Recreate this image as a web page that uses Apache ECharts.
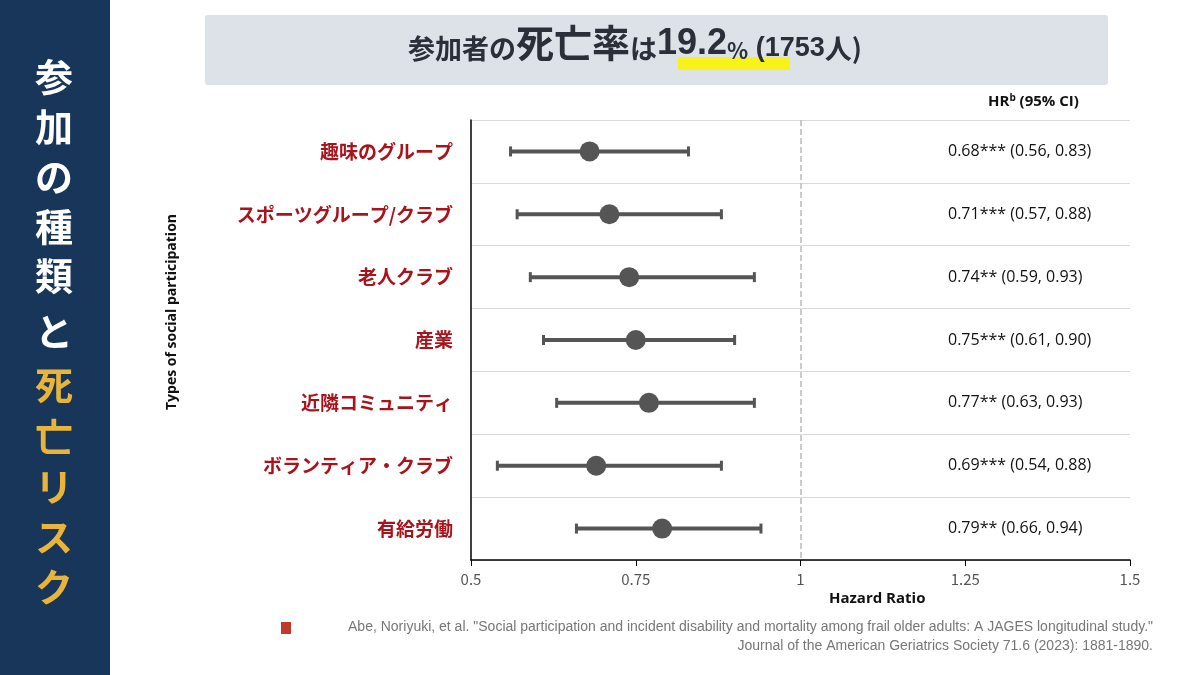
<!DOCTYPE html>
<html><head><meta charset="utf-8">
<script src="https://cdn.jsdelivr.net/npm/echarts@6/dist/echarts.min.js"></script>
<style>html,body{margin:0;padding:0;background:#fff}#c{width:1200px;height:675px}</style>
</head><body><div id="c"></div>
<script>
// data
var categories = ['趣味のグループ', 'スポーツグループ/クラブ', '老人クラブ', '産業', '近隣コミュニティ', 'ボランティア・クラブ', '有給労働'];
var hr = [0.68, 0.71, 0.74, 0.75, 0.77, 0.69, 0.79];
var ciLow = [0.56, 0.57, 0.59, 0.61, 0.63, 0.54, 0.66];
var ciHigh = [0.83, 0.88, 0.93, 0.90, 0.93, 0.88, 0.94];
var stars = ['***', '***', '**', '***', '**', '***', '**'];
var xTicks = [0.5, 0.75, 1, 1.25, 1.5];

var rightLabels = categories.map(function (c, i) {
  return hr[i].toFixed(2) + stars[i] + ' (' + ciLow[i].toFixed(2) + ', ' + ciHigh[i].toFixed(2) + ')';
});

var chart = echarts.init(document.getElementById('c'));
var font = '"Noto Sans CJK JP", "Noto Sans", sans-serif';

var sideChars = '参加の種類と死亡リスク'.split('');
var sideY = [80, 130, 180, 230, 279, 335, 388, 440, 490, 540, 590];
var sideGraphics = sideChars.map(function (ch, i) {
  return {
    type: 'text', left: 55 - 20, top: sideY[i] - 22,
    style: { text: ch, fill: i < 6 ? '#ffffff' : '#e8b53a', font: 'bold 38px ' + font, width: 40, align: 'center' }
  };
});

chart.setOption({
  animation: false,
  textStyle: { fontFamily: font },
  grid: { left: 471, right: 70, top: 120, bottom: 115 },
  xAxis: {
    type: 'value', min: 0.5, max: 1.5, interval: 0.25,
    axisLine: { show: true, lineStyle: { color: '#000', width: 1.5 } },
    axisTick: { show: true, length: 6, lineStyle: { color: '#000' } },
    axisLabel: { color: '#555', fontSize: 15, margin: 12, formatter: function (v) { return xTicks.indexOf(v) >= 0 ? String(v) : ''; } },
    splitLine: { show: false }
  },
  yAxis: [{
    type: 'category', data: categories, inverse: true,
    axisLine: { show: true, onZero: false, lineStyle: { color: '#000', width: 1.5 } },
    axisTick: { show: false },
    axisLabel: { color: '#a8141b', fontSize: 19, fontWeight: 'bold', margin: 18 },
    splitLine: { show: true, lineStyle: { color: '#d9d9d9', width: 1 } }
  }, {
    type: 'category', data: rightLabels, inverse: true, position: 'right',
    axisLine: { show: false }, axisTick: { show: false },
    axisLabel: { inside: true, color: '#111', fontSize: 16, margin: 182, align: 'left', fontFamily: '"Open Sans", sans-serif' }
  }],
  series: [{
    type: 'custom',
    data: categories.map(function (c, i) { return [ciLow[i], ciHigh[i], i]; }),
    renderItem: function (params, api) {
      var a = api.coord([api.value(0), api.value(2)]);
      var b = api.coord([api.value(1), api.value(2)]);
      var st = { stroke: '#555', lineWidth: 4 };
      return { type: 'group', children: [
        { type: 'line', shape: { x1: a[0], y1: a[1], x2: b[0], y2: b[1] }, style: st },
        { type: 'line', shape: { x1: a[0], y1: a[1] - 5, x2: a[0], y2: a[1] + 5 }, style: { stroke: '#555', lineWidth: 3 } },
        { type: 'line', shape: { x1: b[0], y1: b[1] - 5, x2: b[0], y2: b[1] + 5 }, style: { stroke: '#555', lineWidth: 3 } }
      ] };
    },
    markLine: {
      silent: true, symbol: 'none', label: { show: false },
      lineStyle: { type: 'dashed', color: '#bbb', width: 1.5 },
      data: [{ xAxis: 1 }]
    },
    z: 2
  }, {
    type: 'scatter', symbolSize: 20,
    itemStyle: { color: '#555', opacity: 1 },
    data: categories.map(function (c, i) { return [hr[i], c]; }),
    z: 3
  }],
  graphic: [
    { type: 'rect', left: 0, top: 0, shape: { width: 110, height: 675 }, style: { fill: '#17365a' } },
    { type: 'rect', left: 205, top: 15, shape: { width: 903, height: 70, r: 3 }, style: { fill: '#dde1e8' } },
    { type: 'rect', left: 678, top: 57, shape: { width: 112, height: 13 }, style: { fill: '#f7f21a' } },
    { type: 'text', left: 408, top: 24, z: 10,
      style: { text: '{a|参加者の}{b|死亡率}{a|は}{n|19.2}{c|%}{m| (1753}{a|人)}',
        rich: {
          a: { fontSize: 27, fontWeight: 'bold', fill: '#2b2f3a', fontFamily: font, verticalAlign: 'bottom' },
          b: { fontSize: 38, fontWeight: 'bold', fill: '#2b2f3a', fontFamily: font, verticalAlign: 'bottom' },
          n: { fontSize: 36, fontWeight: 'bold', fill: '#2b2f3a', fontFamily: '"Liberation Sans", Arial, sans-serif', verticalAlign: 'bottom' },
          m: { fontSize: 27, fontWeight: 'bold', fill: '#2b2f3a', fontFamily: '"Liberation Sans", Arial, sans-serif', verticalAlign: 'bottom' },
          c: { fontSize: 22, fontWeight: 'bold', fill: '#2b2f3a', fontFamily: font, verticalAlign: 'bottom' }
        } } },
    { type: 'text', left: 988, top: 93, style: { text: '{a|HR}{s|b}{a| (95% CI)}', rich: {
      a: { fontSize: 15, fontWeight: 'bold', fill: '#111', fontFamily: '"Open Sans", sans-serif' },
      s: { fontSize: 10, fontWeight: 'bold', fill: '#111', fontFamily: '"Open Sans", sans-serif', verticalAlign: 'top', padding: [0, 0, 8, 0] } } } },
    { type: 'text', left: 829, top: 591, style: { text: 'Hazard Ratio', font: 'bold 15px "Open Sans", sans-serif', fill: '#111' } },
    { type: 'text', x: 172, y: 312, rotation: Math.PI / 2,
      style: { text: 'Types of social participation', font: 'bold 14px "Open Sans", sans-serif', fill: '#111', align: 'center', verticalAlign: 'middle' } },
    { type: 'rect', left: 281, top: 622, shape: { width: 10, height: 12 }, style: { fill: '#c0392b' } },
    { type: 'text', right: 47, top: 620, style: { text: 'Abe, Noriyuki, et al. "Social participation and incident disability and mortality among frail older adults: A JAGES longitudinal study."', font: '14px "Liberation Sans", Arial, sans-serif', fill: '#777' } },
    { type: 'text', right: 47, top: 639, style: { text: 'Journal of the American Geriatrics Society 71.6 (2023): 1881-1890.', font: '14px "Liberation Sans", Arial, sans-serif', fill: '#777' } }
  ].concat(sideGraphics)
});
</script></body></html>
